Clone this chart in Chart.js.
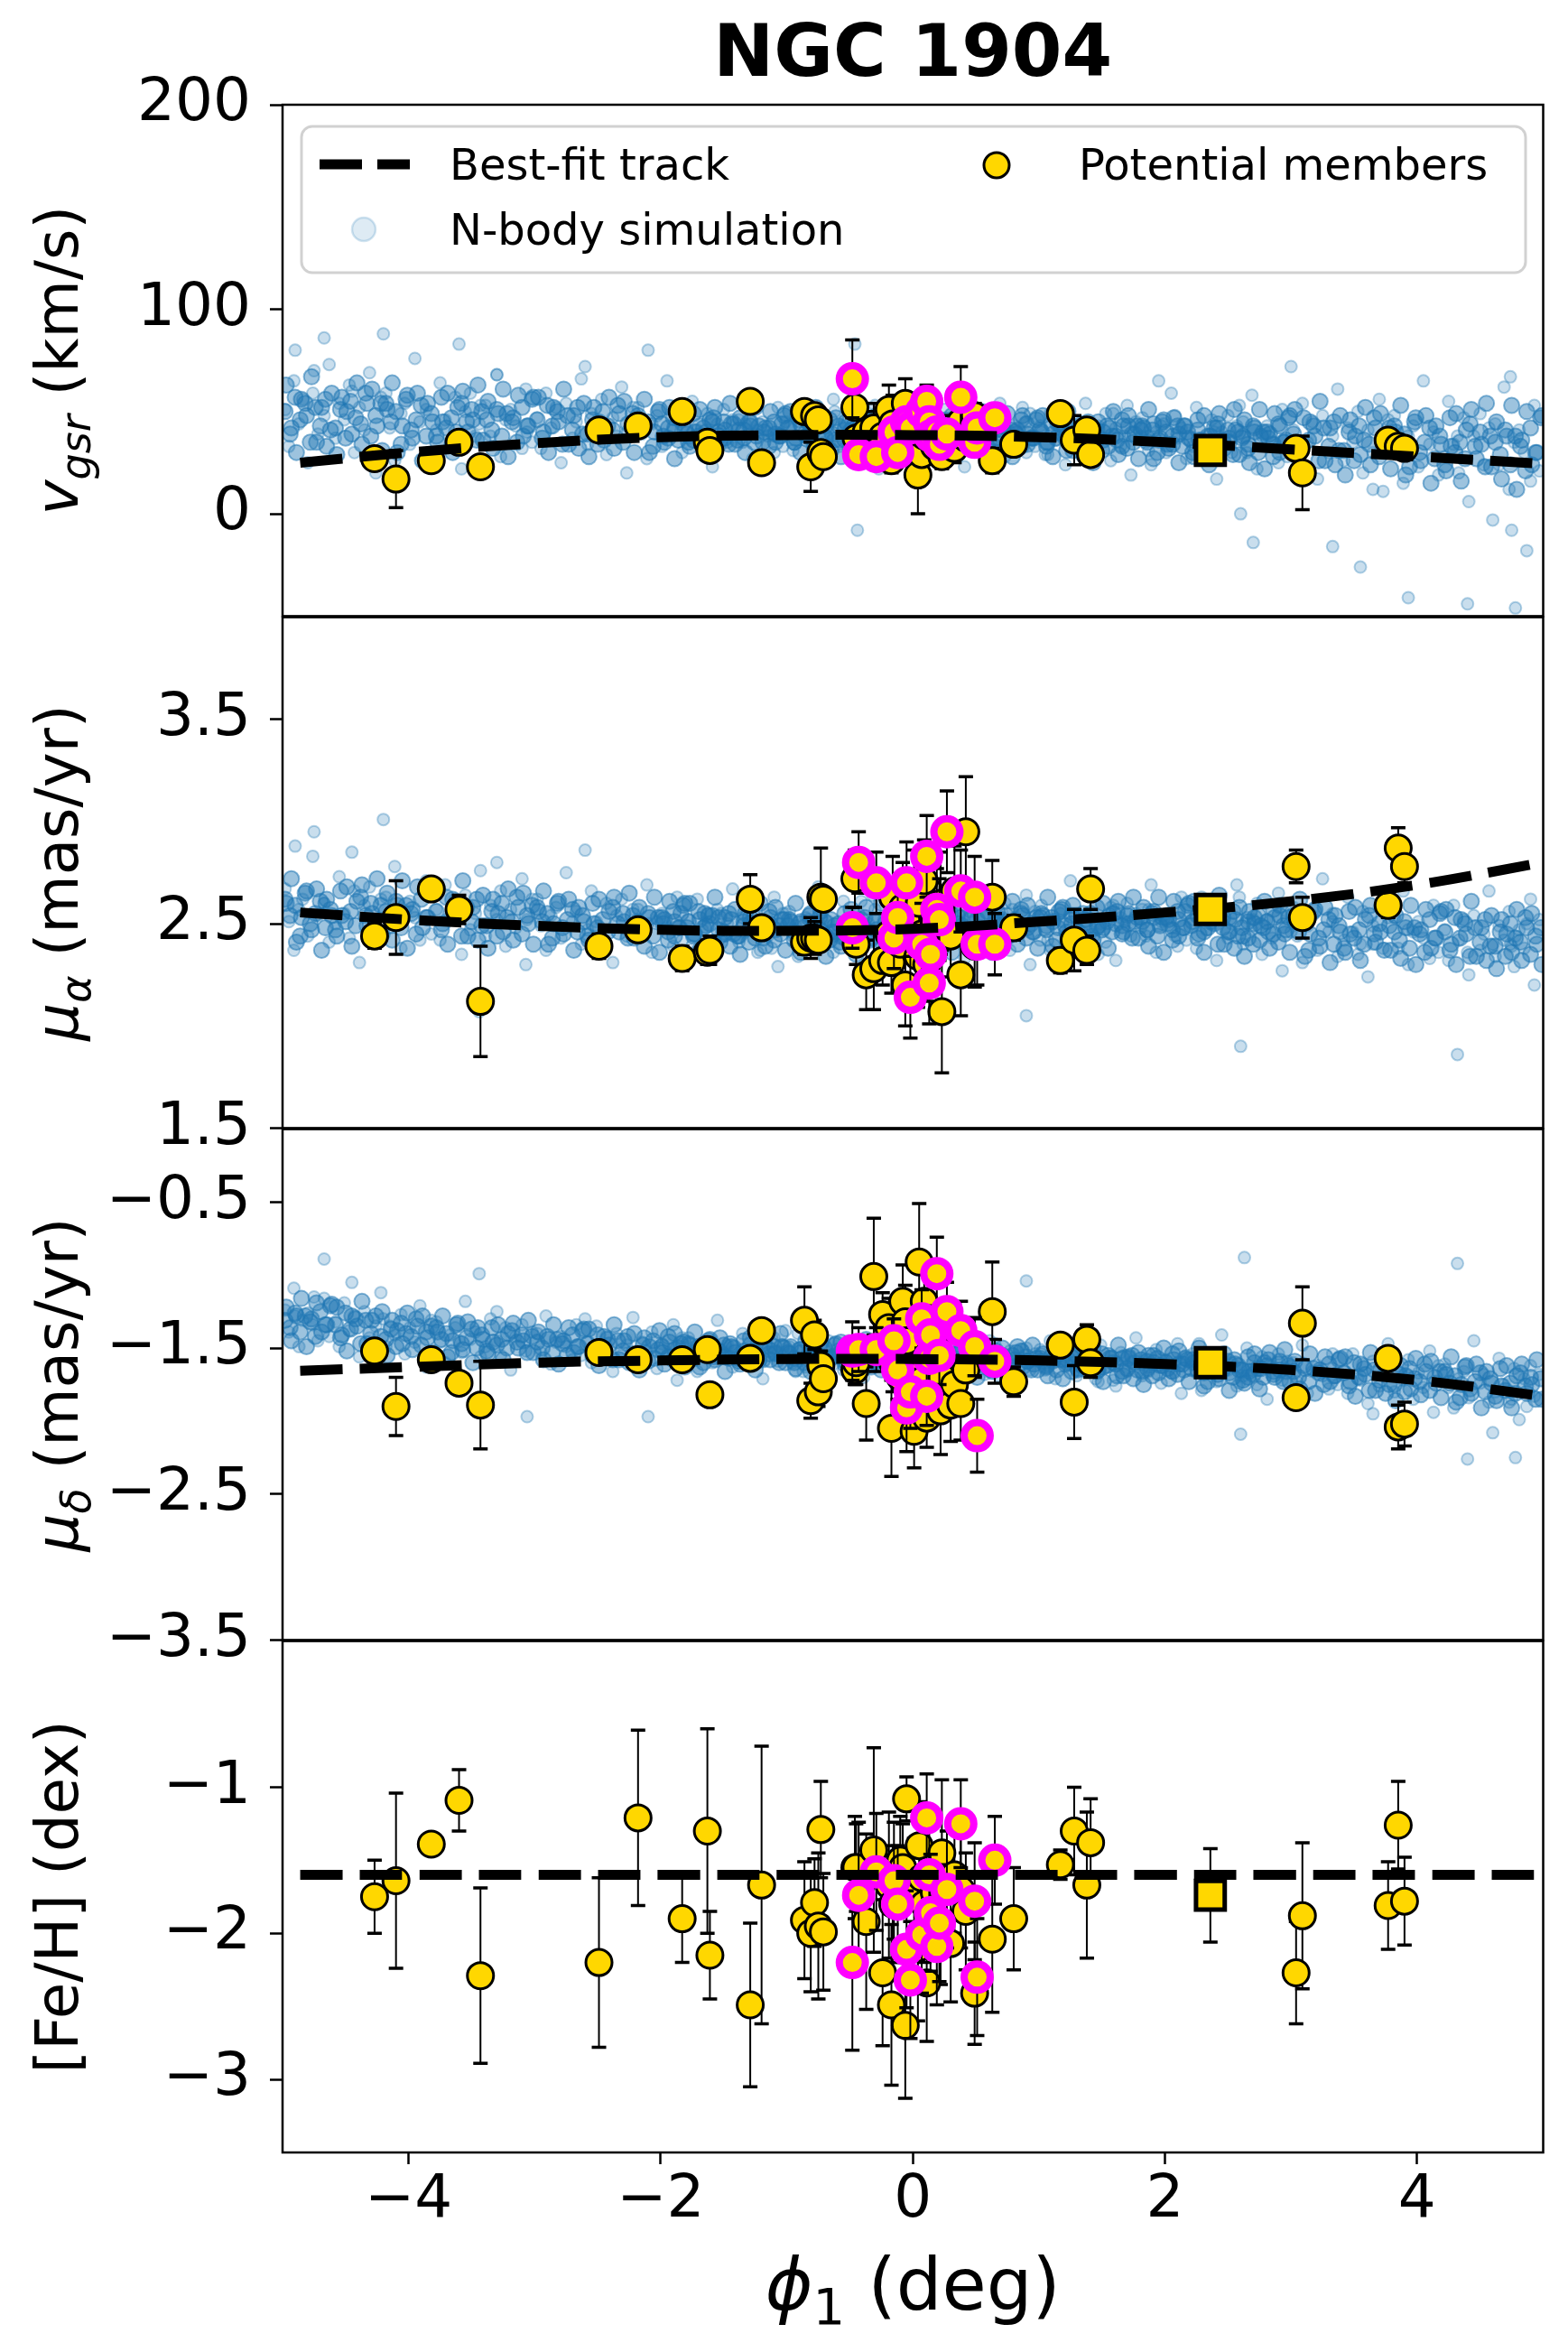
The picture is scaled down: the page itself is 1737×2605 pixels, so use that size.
<!DOCTYPE html>
<html><head><meta charset="utf-8">
<script src="https://cdn.jsdelivr.net/npm/chart.js@4.4.1/dist/chart.umd.min.js"></script>
<style>
html,body{margin:0;padding:0;background:#fff;}
#wrap{position:relative;width:1737px;height:2605px;background:#fff;overflow:hidden;}
canvas{position:absolute;left:0;}
</style></head><body>
<div id="wrap">
<canvas id="c1" width="1737" height="743" style="top:0px;width:1737px;height:743px"></canvas>
<canvas id="c2" width="1737" height="687" style="top:623px;width:1737px;height:687px"></canvas>
<canvas id="c3" width="1737" height="687" style="top:1190px;width:1737px;height:687px"></canvas>
<canvas id="c4" width="1737" height="848" style="top:1757px;width:1737px;height:848px"></canvas>
</div>
<script>
// ---------------- DATA ----------------
const chartTitle = 'NGC 1904';
const legendLabels = ['Best-fit track', 'N-body simulation', 'Potential members'];

const xTicks = [-4, -2, 0, 2, 4];
const yTicksV = [0, 100, 200];
const yTicksPa = [1.5, 2.5, 3.5];
const yTicksPd = [-3.5, -2.5, -1.5, -0.5];
const yTicksFe = [-3, -2, -1];

// best-fit track
const trackPhi = [-4.86, -4, -3, -2, -1, 0, 1, 2, 3, 4, 5];
const trackV   = [25, 30, 34.5, 37.5, 38.5, 38.5, 37.5, 35, 31.5, 28, 24.5];
const trackPa  = [2.555, 2.52, 2.49, 2.47, 2.465, 2.475, 2.51, 2.555, 2.61, 2.69, 2.80];
const trackPd  = [-1.655, -1.63, -1.60, -1.585, -1.575, -1.575, -1.585, -1.61, -1.65, -1.72, -1.83];
const trackFe  = [-1.6, -1.6, -1.6, -1.6, -1.6, -1.6, -1.6, -1.6, -1.6, -1.6, -1.6];

// cluster (square)
const clusterPhi = [2.36];
const clusterV = [31];
const clusterPa = [2.57];
const clusterPd = [-1.60];
const clusterFe = [-1.74];
const clusterFeErr = [0.32];

// potential members (black edge)
const memPhi = [-4.27,-4.10,-3.82,-3.60,-3.43,-2.49,-2.18,-1.83,-1.63,-1.61,-1.29,-1.20,-0.86,-0.81,-0.78,-0.75,-0.73,-0.71,-0.46,-0.45,-0.37,-0.31,-0.24,-0.19,-0.17,-0.16,-0.10,-0.08,-0.06,-0.05,0.01,0.04,0.05,0.07,0.09,0.11,0.17,0.22,0.23,0.30,0.33,0.38,0.42,0.49,0.63,0.80,1.17,1.28,1.38,1.41,3.04,3.09,3.77,3.85,3.90];
const memV = [27,17,26,35,23,41,43,50,35,31,55,25,50,23,48,46,30,28,52,37,40,42,38,51,26,44,32,40,54,36,30,19,45,29,38,42,33,35,28,40,32,45,37,48,26,34,49,36,41,29,32,20,36,33,32];
const memVErr = [4,14,4,4,4,3,3,3,3,4,4,4,4,12,4,3,4,5,4,5,10,12,5,12,6,14,6,14,12,6,10,19,12,6,8,10,7,6,6,8,7,12,6,6,6,5,5,12,4,4,5,18,5,5,4];
const memPa = [2.44,2.53,2.67,2.57,2.12,2.39,2.47,2.33,2.36,2.37,2.62,2.48,2.41,2.43,2.43,2.42,2.63,2.62,2.72,2.40,2.25,2.28,2.32,2.45,2.31,2.63,2.40,2.58,2.20,2.52,2.68,2.34,2.60,2.45,2.71,2.30,2.50,2.60,2.07,2.44,2.66,2.25,2.95,2.39,2.63,2.48,2.32,2.42,2.37,2.67,2.78,2.53,2.59,2.87,2.78];
const memPaErr = [0.06,0.18,0.05,0.07,0.27,0.06,0.05,0.06,0.06,0.07,0.12,0.05,0.06,0.10,0.08,0.05,0.24,0.05,0.14,0.10,0.17,0.20,0.12,0.15,0.15,0.20,0.18,0.22,0.20,0.20,0.18,0.25,0.20,0.20,0.20,0.18,0.20,0.25,0.30,0.20,0.22,0.20,0.27,0.20,0.18,0.06,0.06,0.15,0.07,0.10,0.08,0.10,0.06,0.10,0.08];
const memPd = [-1.52,-1.90,-1.58,-1.74,-1.89,-1.53,-1.58,-1.58,-1.51,-1.82,-1.57,-1.38,-1.31,-1.86,-1.41,-1.80,-1.62,-1.71,-1.65,-1.60,-1.88,-1.01,-1.27,-1.36,-2.05,-1.60,-1.70,-1.18,-1.32,-1.45,-2.07,-1.62,-0.91,-1.72,-1.18,-1.98,-1.55,-1.93,-1.70,-1.89,-1.75,-1.88,-1.65,-1.50,-1.25,-1.73,-1.48,-1.87,-1.44,-1.60,-1.84,-1.33,-1.57,-2.04,-2.02];
const memPdErr = [0.05,0.20,0.05,0.07,0.30,0.05,0.05,0.05,0.05,0.06,0.05,0.07,0.23,0.12,0.10,0.10,0.10,0.10,0.10,0.15,0.25,0.40,0.15,0.20,0.33,0.20,0.20,0.25,0.25,0.20,0.25,0.20,0.40,0.20,0.30,0.20,0.20,0.30,0.20,0.25,0.20,0.25,0.20,0.20,0.34,0.10,0.05,0.25,0.10,0.10,0.06,0.25,0.06,0.15,0.15];
const memFe = [-1.75,-1.64,-1.39,-1.09,-2.29,-2.20,-1.21,-1.90,-1.30,-2.15,-2.49,-1.67,-1.91,-2.00,-1.79,-1.95,-1.29,-1.99,-1.55,-1.55,-1.92,-1.43,-2.27,-1.67,-2.49,-1.80,-1.50,-1.55,-2.63,-1.08,-1.75,-2.10,-1.40,-1.62,-1.80,-2.34,-1.72,-1.95,-1.45,-2.07,-1.60,-1.70,-1.85,-2.41,-2.04,-1.90,-1.53,-1.30,-1.67,-1.38,-2.27,-1.88,-1.81,-1.26,-1.78];
const memFeErr = [0.25,0.60,0.07,0.21,0.60,0.58,0.60,0.30,0.70,0.30,0.56,0.95,0.40,0.40,0.30,0.50,0.33,0.40,0.35,0.30,0.60,0.70,0.50,0.50,0.55,0.40,0.30,0.30,0.50,0.15,0.40,0.50,0.30,0.40,0.40,0.40,0.30,0.40,0.50,0.40,0.40,0.40,0.40,0.35,0.50,0.35,0.10,0.30,0.50,0.30,0.35,0.50,0.30,0.30,0.30];

// potential members highlighted with magenta edge
const corePhi = [-0.48,-0.43,-0.29,-0.15,-0.12,-0.05,-0.02,0.07,0.11,0.13,0.14,0.19,0.21,0.27,0.38,0.49,0.51,0.65];
const coreV = [66,29,28,40,30,45,42,50,55,45,38,40,34,39,57,35,42,47];
const coreVErr = [19,6,6,6,6,6,7,7,8,6,6,6,6,6,15,6,6,6];
const corePa = [2.48,2.80,2.70,2.43,2.53,2.70,2.14,2.40,2.83,2.21,2.35,2.57,2.52,2.95,2.66,2.63,2.40,2.40];
const corePaErr = [0.10,0.15,0.15,0.15,0.15,0.20,0.20,0.20,0.20,0.20,0.20,0.20,0.20,0.20,0.20,0.20,0.20,0.15];
const corePd = [-1.52,-1.51,-1.51,-1.45,-1.65,-1.91,-1.80,-1.30,-1.83,-1.57,-1.41,-0.99,-1.55,-1.25,-1.38,-1.49,-2.10,-1.59];
const corePdErr = [0.20,0.15,0.15,0.15,0.20,0.30,0.25,0.20,0.20,0.20,0.20,0.25,0.20,0.20,0.20,0.20,0.25,0.15];
const coreFe = [-2.20,-1.74,-1.58,-1.64,-1.80,-2.11,-2.32,-2.01,-1.21,-1.60,-1.86,-2.09,-1.93,-1.70,-1.25,-1.78,-2.30,-1.50];
const coreFeErr = [0.60,0.50,0.40,0.40,0.40,0.40,0.40,0.40,0.30,0.40,0.40,0.40,0.40,0.40,0.30,0.40,0.40,0.30];

// N-body simulation particles (first set: broad + outliers)
const nbPhi = [
-4.98,-4.95,-4.91,-4.87,-4.84,-4.80,-4.76,-4.72,-4.67,-4.63,
-4.58,-4.55,-4.51,-4.47,-4.43,-4.39,-4.35,-4.31,-4.26,-4.22,
-4.18,-4.15,-4.11,-4.06,-4.03,-3.99,-3.95,-3.91,-3.86,-3.82,
-3.78,-3.75,-3.71,-3.67,-3.63,-3.58,-3.55,-3.51,-3.47,-3.43,
-3.39,-3.35,-3.30,-3.27,-3.23,-3.19,-3.15,-3.10,-3.07,-3.02,
-2.98,-2.95,-2.91,-2.87,-2.83,-2.79,-2.75,-2.70,-2.67,-2.63,
-2.58,-2.55,-2.51,-2.47,-2.43,-2.38,-2.35,-2.31,-2.27,-2.22,
-2.18,-2.15,-2.11,-2.07,-2.03,-1.99,-1.95,-1.90,-1.87,-1.83,
-1.78,-1.75,-1.71,-1.67,-1.63,-1.59,-1.55,-1.50,-1.47,-1.43,
-1.38,-1.35,-1.31,-1.27,-1.23,-1.19,-1.15,-1.10,-1.07,-1.03,
-0.98,-0.95,-0.91,-0.87,-0.83,-0.79,-0.75,-0.70,-0.67,-0.63,
-0.58,-0.55,-0.51,-0.47,-0.43,-0.39,-0.35,-0.30,-0.27,-0.23,
-0.18,-0.15,-0.11,-0.07,-0.03,0.01,0.05,0.10,0.13,0.17,
0.22,0.25,0.29,0.33,0.37,0.41,0.45,0.50,0.53,0.57,
0.62,0.65,0.69,0.73,0.77,0.81,0.85,0.90,0.93,0.97,
1.02,1.05,1.09,1.13,1.17,1.21,1.25,1.30,1.33,1.37,
1.42,1.45,1.49,1.53,1.57,1.61,1.65,1.70,1.73,1.77,
1.82,1.85,1.89,1.93,1.97,2.01,2.05,2.10,2.13,2.17,
2.22,2.25,2.29,2.33,2.37,2.41,2.45,2.50,2.53,2.57,
2.62,2.65,2.69,2.73,2.77,2.81,2.85,2.90,2.93,2.97,
3.02,3.05,3.09,3.13,3.17,3.21,3.25,3.30,3.33,3.37,
3.42,3.45,3.49,3.53,3.57,3.61,3.65,3.70,3.73,3.77,
3.82,3.85,3.89,3.93,3.97,4.01,4.05,4.10,4.13,4.17,
4.22,4.25,4.29,4.33,4.37,4.41,4.45,4.50,4.53,4.57,
4.62,4.65,4.69,4.73,4.77,4.81,4.85,4.90,4.93,4.97,
-1.52,-1.33,-1.12,-0.93,-0.72,-0.53,-0.32,-0.12,0.07,0.28,
0.47,0.68,0.87,1.07,1.28,1.47,1.68,1.87,2.08,2.27,
-0.85,-0.62,-0.41,-0.21,0.03,0.19,0.39,0.61,0.79,1.01,
1.19,1.41,1.59,1.81,1.99,-1.21,-1.01,-0.81,2.39,2.59,
-0.44,2.70,3.55,3.93,4.40,4.78,3.33,4.75,4.87,2.60,
-4.67,-4.20,-3.60,-2.10,-0.46,3.00,4.74,-4.90,0.90,4.32,
-3.44,-3.06,2.63,-4.75,-4.45,3.65,1.95,-2.60,-3.30,4.60];
const nbV = [
51,33,65,44,56,25,59,39,48,73,
37,54,46,63,30,52,41,69,20,57,
59,42,26,49,54,34,76,45,51,30,
41,64,46,34,57,22,50,59,38,53,
53,38,68,28,46,51,43,32,61,35,
47,32,59,42,52,25,54,37,45,66,
34,49,42,56,29,47,38,62,20,52,
52,39,27,44,48,33,65,41,46,30,
37,55,41,32,49,23,44,51,35,46,
46,35,57,27,41,45,38,30,52,33,
42,31,51,38,46,26,47,35,41,56,
33,43,38,49,29,42,35,53,22,45,
47,37,27,41,44,32,57,38,42,29,
36,51,39,31,46,23,41,48,33,44,
45,34,54,28,40,43,37,30,49,33,
40,29,49,36,44,24,45,33,39,54,
31,42,37,49,26,42,33,53,19,45,
47,35,24,40,43,30,59,37,42,27,
33,52,37,27,46,17,40,48,30,43,
45,30,58,22,38,43,35,25,51,28,
41,24,54,35,45,17,48,30,38,61,
26,42,35,50,20,41,30,56,11,46,
48,31,15,38,43,23,65,34,40,19,
28,55,34,20,47,6,38,49,24,42,
44,24,62,12,35,41,30,16,53,21,
34,44,39,48,31,43,36,52,25,46,
44,35,52,29,40,43,38,31,48,33,
36,50,39,32,45,25,41,47,34,43,
41,31,49,38,44,27,45,35,40,53,
-8,-14,-26,-41,-44,-46,-16,-8,-18,0,
86,88,83,80,83,72,67,80,45,38,
44,40,38,70,60,12,65,72,68,-3];
const nbPa = [
2.67,2.51,2.37,2.57,2.62,2.44,2.83,2.54,2.60,2.41,
2.50,2.73,2.55,2.43,2.66,2.31,2.59,2.68,2.47,2.62,
2.63,2.48,2.78,2.38,2.56,2.61,2.53,2.42,2.71,2.45,
2.57,2.42,2.69,2.52,2.62,2.35,2.64,2.47,2.55,2.76,
2.44,2.59,2.52,2.66,2.39,2.57,2.48,2.72,2.30,2.62,
2.62,2.49,2.37,2.54,2.58,2.43,2.75,2.51,2.56,2.40,
2.47,2.66,2.51,2.41,2.60,2.31,2.54,2.62,2.44,2.57,
2.57,2.44,2.69,2.36,2.51,2.55,2.48,2.39,2.63,2.42,
2.52,2.39,2.62,2.47,2.55,2.34,2.57,2.44,2.50,2.67,
2.41,2.53,2.47,2.59,2.36,2.52,2.44,2.63,2.29,2.55,
2.56,2.44,2.34,2.49,2.52,2.39,2.68,2.46,2.51,2.36,
2.43,2.61,2.47,2.38,2.55,2.29,2.50,2.57,2.41,2.52,
2.53,2.42,2.64,2.34,2.48,2.52,2.45,2.37,2.59,2.40,
2.51,2.38,2.61,2.46,2.54,2.33,2.56,2.43,2.49,2.66,
2.42,2.54,2.48,2.60,2.37,2.53,2.45,2.64,2.30,2.56,
2.59,2.47,2.37,2.52,2.55,2.42,2.71,2.49,2.54,2.39,
2.46,2.64,2.50,2.41,2.58,2.32,2.53,2.60,2.44,2.55,
2.57,2.44,2.69,2.36,2.51,2.55,2.48,2.39,2.63,2.42,
2.52,2.38,2.63,2.47,2.56,2.32,2.58,2.43,2.50,2.69,
2.40,2.53,2.47,2.60,2.35,2.52,2.43,2.65,2.27,2.56,
2.58,2.44,2.31,2.49,2.54,2.37,2.72,2.46,2.51,2.34,
2.42,2.63,2.46,2.35,2.56,2.24,2.49,2.58,2.38,2.53,
2.53,2.38,2.66,2.30,2.46,2.51,2.43,2.33,2.59,2.36,
2.47,2.32,2.59,2.42,2.52,2.25,2.54,2.37,2.45,2.66,
2.34,2.49,2.42,2.56,2.29,2.47,2.38,2.62,2.20,2.52,
2.55,2.46,2.38,2.49,2.52,2.42,2.64,2.47,2.51,2.40,
2.46,2.60,2.49,2.42,2.55,2.35,2.51,2.57,2.44,2.53,
2.53,2.44,2.61,2.38,2.49,2.52,2.47,2.40,2.57,2.42,
2.51,2.41,2.59,2.48,2.54,2.37,2.55,2.45,2.50,2.63,
2.45,2.52,2.40,2.47,2.36,2.44,2.55,2.39,2.50,1.90,
2.60,3.01,2.55,2.50,2.47,2.46,2.40,2.88,2.05,1.86,
2.07,2.52,2.50,2.95,2.85,2.40,2.49,2.86,2.80,2.40];
const nbPd = [
-1.24,-1.39,-1.09,-1.49,-1.31,-1.26,-1.34,-1.45,-1.16,-1.42,
-1.32,-1.49,-1.19,-1.38,-1.28,-1.56,-1.25,-1.43,-1.35,-1.12,
-1.49,-1.35,-1.41,-1.27,-1.54,-1.36,-1.46,-1.21,-1.63,-1.31,
-1.32,-1.46,-1.60,-1.41,-1.36,-1.53,-1.18,-1.44,-1.39,-1.56,
-1.49,-1.30,-1.45,-1.55,-1.36,-1.65,-1.42,-1.34,-1.52,-1.39,
-1.40,-1.53,-1.28,-1.61,-1.46,-1.42,-1.49,-1.58,-1.34,-1.55,
-1.46,-1.60,-1.35,-1.51,-1.42,-1.66,-1.40,-1.55,-1.48,-1.29,
-1.59,-1.46,-1.52,-1.39,-1.64,-1.47,-1.56,-1.34,-1.72,-1.43,
-1.43,-1.55,-1.66,-1.50,-1.47,-1.60,-1.31,-1.53,-1.48,-1.63,
-1.57,-1.40,-1.53,-1.62,-1.45,-1.71,-1.50,-1.43,-1.59,-1.48,
-1.49,-1.60,-1.40,-1.66,-1.54,-1.51,-1.57,-1.64,-1.45,-1.61,
-1.54,-1.65,-1.45,-1.58,-1.50,-1.70,-1.49,-1.61,-1.55,-1.40,
-1.63,-1.53,-1.58,-1.47,-1.67,-1.54,-1.61,-1.43,-1.74,-1.51,
-1.50,-1.60,-1.70,-1.56,-1.53,-1.65,-1.40,-1.59,-1.55,-1.68,
-1.62,-1.47,-1.59,-1.67,-1.52,-1.75,-1.57,-1.50,-1.65,-1.54,
-1.54,-1.65,-1.45,-1.71,-1.59,-1.56,-1.62,-1.69,-1.50,-1.66,
-1.58,-1.71,-1.48,-1.63,-1.55,-1.76,-1.53,-1.66,-1.60,-1.43,
-1.69,-1.58,-1.63,-1.51,-1.74,-1.58,-1.67,-1.47,-1.81,-1.55,
-1.54,-1.67,-1.79,-1.62,-1.58,-1.73,-1.41,-1.65,-1.60,-1.76,
-1.69,-1.50,-1.65,-1.75,-1.56,-1.85,-1.62,-1.54,-1.72,-1.59,
-1.60,-1.73,-1.48,-1.81,-1.66,-1.62,-1.69,-1.78,-1.54,-1.75,
-1.66,-1.81,-1.54,-1.71,-1.61,-1.88,-1.59,-1.76,-1.68,-1.47,
-1.80,-1.66,-1.72,-1.58,-1.85,-1.67,-1.77,-1.52,-1.94,-1.62,
-1.61,-1.77,-1.91,-1.71,-1.66,-1.84,-1.45,-1.74,-1.68,-1.87,
-1.80,-1.57,-1.75,-1.87,-1.64,-1.99,-1.71,-1.62,-1.83,-1.68,
-1.51,-1.60,-1.43,-1.66,-1.55,-1.52,-1.57,-1.64,-1.47,-1.62,
-1.59,-1.69,-1.51,-1.62,-1.56,-1.73,-1.55,-1.66,-1.61,-1.47,
-1.63,-1.54,-1.58,-1.49,-1.66,-1.54,-1.61,-1.45,-1.72,-1.51,
-1.53,-1.63,-1.72,-1.61,-1.58,-1.59,-1.38,-1.56,-1.60,-1.74,
-1.55,-1.66,-1.72,-1.69,-2.26,-2.25,-1.64,-1.85,-1.90,-2.09,
-0.89,-1.30,-1.45,-1.97,-1.55,-1.62,-1.80,-1.28,-1.04,-0.92,
-0.99,-1.97,-0.88,-1.15,-1.05,-1.95,-1.62,-1.30,-1.25,-2.08];

// N-body simulation particles (second set: stream core)
const nbPhi2 = [
-4.98,-4.94,-4.90,-4.86,-4.82,-4.78,-4.74,-4.70,-4.66,-4.62,
-4.58,-4.54,-4.50,-4.46,-4.42,-4.38,-4.34,-4.30,-4.26,-4.22,
-4.18,-4.14,-4.10,-4.06,-4.02,-3.98,-3.94,-3.90,-3.86,-3.82,
-3.78,-3.74,-3.70,-3.66,-3.62,-3.58,-3.54,-3.50,-3.46,-3.42,
-3.38,-3.34,-3.30,-3.26,-3.22,-3.18,-3.14,-3.10,-3.06,-3.02,
-2.98,-2.94,-2.90,-2.86,-2.82,-2.78,-2.74,-2.70,-2.66,-2.62,
-2.58,-2.54,-2.50,-2.46,-2.42,-2.38,-2.34,-2.30,-2.26,-2.22,
-2.18,-2.14,-2.10,-2.06,-2.02,-1.98,-1.94,-1.90,-1.86,-1.82,
-1.78,-1.74,-1.70,-1.66,-1.62,-1.58,-1.54,-1.50,-1.46,-1.42,
-1.38,-1.34,-1.30,-1.26,-1.22,-1.18,-1.14,-1.10,-1.06,-1.02,
-0.98,-0.94,-0.90,-0.86,-0.82,-0.78,-0.74,-0.70,-0.66,-0.62,
-0.58,-0.54,-0.50,-0.46,-0.42,-0.38,-0.34,-0.30,-0.26,-0.22,
-0.18,-0.14,-0.10,-0.06,-0.02,0.02,0.06,0.10,0.14,0.18,
0.22,0.26,0.30,0.34,0.38,0.42,0.46,0.50,0.54,0.58,
0.62,0.66,0.70,0.74,0.78,0.82,0.86,0.90,0.94,0.98,
1.02,1.06,1.10,1.14,1.18,1.22,1.26,1.30,1.34,1.38,
1.42,1.46,1.50,1.54,1.58,1.62,1.66,1.70,1.74,1.78,
1.82,1.86,1.90,1.94,1.98,2.02,2.06,2.10,2.14,2.18,
2.22,2.26,2.30,2.34,2.38,2.42,2.46,2.50,2.54,2.58,
2.62,2.66,2.70,2.74,2.78,2.82,2.86,2.90,2.94,2.98,
3.02,3.06,3.10,3.14,3.18,3.22,3.26,3.30,3.34,3.38,
3.42,3.46,3.50,3.54,3.58,3.62,3.66,3.70,3.74,3.78,
3.82,3.86,3.90,3.94,3.98,4.02,4.06,4.10,4.14,4.18,
4.22,4.26,4.30,4.34,4.38,4.42,4.46,4.50,4.54,4.58,
4.62,4.66,4.70,4.74,4.78,4.82,4.86,4.90,4.94,4.98];
const nbV2 = [
50,39,57,46,54,35,52,43,56,41,
42,51,37,55,47,44,59,38,48,54,
54,45,50,34,56,41,46,53,38,49,
38,57,42,47,40,54,45,51,36,50,
46,41,51,38,49,45,35,52,43,56,
46,37,53,43,50,34,48,41,52,39,
39,46,34,50,43,41,53,35,44,49,
48,41,45,33,50,38,42,47,36,44,
35,49,38,42,36,47,40,45,34,44,
41,37,45,35,43,40,33,45,38,48,
42,35,46,39,44,33,43,38,46,36,
36,41,33,44,39,37,46,33,40,43,
44,38,41,32,45,36,39,43,34,41,
33,46,37,40,35,45,38,42,33,41,
40,37,43,34,41,39,33,44,37,46,
40,33,44,37,42,31,41,36,44,34,
34,41,31,43,38,36,46,32,39,43,
43,37,41,30,45,34,38,43,33,40,
30,46,34,38,32,44,36,41,29,40,
38,34,43,30,40,37,28,44,35,47,
39,30,47,36,43,26,42,33,45,31,
31,40,26,43,36,34,47,28,37,42,
43,34,39,23,45,30,35,42,27,38,
24,47,30,35,27,44,33,40,23,38,
35,29,41,24,38,33,21,42,30,47];
const nbPa2 = [
2.62,2.54,2.59,2.44,2.65,2.50,2.55,2.61,2.48,2.57,
2.47,2.66,2.51,2.56,2.49,2.63,2.54,2.60,2.45,2.59,
2.56,2.51,2.61,2.48,2.59,2.55,2.45,2.62,2.53,2.66,
2.56,2.47,2.63,2.53,2.60,2.44,2.58,2.51,2.62,2.49,
2.49,2.56,2.44,2.60,2.53,2.51,2.63,2.45,2.54,2.59,
2.58,2.51,2.55,2.43,2.60,2.48,2.52,2.57,2.46,2.54,
2.44,2.60,2.48,2.52,2.46,2.58,2.50,2.55,2.43,2.54,
2.51,2.47,2.55,2.44,2.53,2.50,2.42,2.56,2.48,2.59,
2.51,2.44,2.56,2.48,2.54,2.41,2.53,2.46,2.55,2.45,
2.44,2.51,2.41,2.53,2.48,2.46,2.56,2.42,2.49,2.52,
2.52,2.46,2.50,2.39,2.54,2.43,2.47,2.51,2.42,2.49,
2.41,2.55,2.44,2.48,2.43,2.53,2.46,2.51,2.40,2.50,
2.48,2.44,2.52,2.42,2.50,2.47,2.40,2.52,2.45,2.55,
2.50,2.43,2.55,2.47,2.53,2.40,2.52,2.45,2.54,2.44,
2.45,2.52,2.42,2.54,2.49,2.47,2.57,2.43,2.50,2.53,
2.55,2.49,2.53,2.42,2.57,2.46,2.50,2.54,2.45,2.52,
2.44,2.58,2.47,2.51,2.46,2.56,2.49,2.54,2.43,2.53,
2.51,2.47,2.55,2.44,2.53,2.50,2.42,2.56,2.48,2.59,
2.51,2.43,2.57,2.48,2.54,2.40,2.53,2.46,2.56,2.44,
2.44,2.51,2.40,2.54,2.48,2.46,2.57,2.41,2.49,2.53,
2.54,2.46,2.50,2.37,2.56,2.43,2.47,2.52,2.40,2.49,
2.38,2.56,2.43,2.47,2.40,2.54,2.45,2.50,2.37,2.49,
2.46,2.42,2.51,2.38,2.48,2.45,2.36,2.52,2.43,2.55,
2.46,2.37,2.53,2.43,2.50,2.34,2.48,2.41,2.52,2.39,
2.39,2.46,2.34,2.50,2.43,2.41,2.53,2.35,2.44,2.48];
const nbPd2 = [
-1.31,-1.36,-1.26,-1.39,-1.28,-1.32,-1.42,-1.25,-1.34,-1.21,
-1.34,-1.43,-1.26,-1.37,-1.30,-1.47,-1.31,-1.40,-1.28,-1.42,
-1.44,-1.37,-1.49,-1.33,-1.40,-1.42,-1.30,-1.48,-1.39,-1.35,
-1.36,-1.44,-1.40,-1.53,-1.34,-1.47,-1.43,-1.37,-1.50,-1.41,
-1.52,-1.36,-1.48,-1.44,-1.50,-1.38,-1.46,-1.41,-1.53,-1.42,
-1.46,-1.50,-1.42,-1.53,-1.44,-1.47,-1.55,-1.41,-1.49,-1.38,
-1.47,-1.55,-1.41,-1.50,-1.44,-1.58,-1.45,-1.52,-1.42,-1.54,
-1.55,-1.48,-1.59,-1.45,-1.51,-1.53,-1.42,-1.58,-1.50,-1.46,
-1.47,-1.53,-1.49,-1.60,-1.45,-1.56,-1.52,-1.48,-1.57,-1.50,
-1.59,-1.45,-1.56,-1.52,-1.58,-1.47,-1.54,-1.49,-1.60,-1.50,
-1.54,-1.57,-1.51,-1.60,-1.53,-1.55,-1.61,-1.50,-1.57,-1.48,
-1.54,-1.61,-1.50,-1.57,-1.52,-1.63,-1.53,-1.58,-1.50,-1.60,
-1.60,-1.55,-1.63,-1.52,-1.57,-1.59,-1.50,-1.63,-1.56,-1.53,
-1.53,-1.59,-1.56,-1.65,-1.52,-1.61,-1.58,-1.54,-1.63,-1.56,
-1.65,-1.52,-1.61,-1.58,-1.63,-1.53,-1.60,-1.56,-1.65,-1.57,
-1.59,-1.62,-1.56,-1.65,-1.58,-1.60,-1.66,-1.55,-1.62,-1.53,
-1.59,-1.66,-1.54,-1.62,-1.57,-1.69,-1.57,-1.64,-1.55,-1.65,
-1.66,-1.59,-1.69,-1.57,-1.62,-1.64,-1.54,-1.68,-1.61,-1.58,
-1.58,-1.65,-1.61,-1.73,-1.56,-1.68,-1.64,-1.59,-1.70,-1.62,
-1.72,-1.56,-1.68,-1.64,-1.70,-1.58,-1.66,-1.61,-1.73,-1.62,
-1.66,-1.70,-1.62,-1.73,-1.64,-1.67,-1.75,-1.61,-1.69,-1.58,
-1.67,-1.76,-1.60,-1.70,-1.64,-1.79,-1.65,-1.72,-1.61,-1.75,
-1.75,-1.68,-1.80,-1.64,-1.71,-1.73,-1.61,-1.79,-1.70,-1.66,
-1.66,-1.74,-1.69,-1.84,-1.63,-1.78,-1.73,-1.67,-1.80,-1.71,
-1.83,-1.64,-1.79,-1.74,-1.81,-1.67,-1.76,-1.70,-1.85,-1.71];

// N-body simulation particles (third set: dense inner stream)
const nbPhi3 = [
-1.99,-1.94,-1.89,-1.84,-1.79,-1.74,-1.69,-1.64,-1.59,-1.54,
-1.49,-1.44,-1.39,-1.34,-1.29,-1.24,-1.19,-1.14,-1.09,-1.04,
-0.99,-0.94,-0.89,-0.84,-0.79,-0.74,-0.69,-0.64,-0.59,-0.54,
-0.49,-0.44,-0.39,-0.34,-0.29,-0.24,-0.19,-0.14,-0.09,-0.04,
0.01,0.06,0.11,0.16,0.21,0.26,0.31,0.36,0.41,0.46,
0.51,0.56,0.61,0.66,0.71,0.76,0.81,0.86,0.91,0.96,
1.01,1.06,1.11,1.16,1.21,1.26,1.31,1.36,1.41,1.46,
1.51,1.56,1.61,1.66,1.71,1.76,1.81,1.86,1.91,1.96,
2.01,2.06,2.11,2.16,2.21,2.26,2.31,2.36,2.41,2.46,
2.51,2.56,2.61,2.66,2.71,2.76,2.81,2.86,2.91,2.96];
const nbV3 = [
44,37,42,46,39,36,43,40,45,38,
37,44,36,41,45,38,35,42,39,44,
42,35,44,38,41,46,37,39,43,36,
36,43,40,34,44,38,41,45,37,40,
41,37,44,35,40,43,38,42,34,45,
38,44,36,41,43,35,40,46,39,37,
41,35,39,44,37,42,34,40,43,36,
36,42,38,33,43,39,41,35,44,37,
40,34,39,43,36,41,33,38,42,35,
35,41,37,32,42,38,40,34,43,36];
const nbPa3 = [
2.53,2.46,2.51,2.55,2.48,2.45,2.52,2.49,2.54,2.47,
2.45,2.52,2.44,2.49,2.53,2.46,2.43,2.50,2.47,2.52,
2.49,2.42,2.51,2.45,2.48,2.53,2.44,2.46,2.50,2.43,
2.44,2.51,2.48,2.42,2.52,2.46,2.49,2.53,2.45,2.48,
2.49,2.45,2.52,2.43,2.48,2.51,2.46,2.50,2.42,2.53,
2.47,2.53,2.45,2.50,2.52,2.44,2.49,2.55,2.48,2.46,
2.53,2.47,2.51,2.56,2.49,2.54,2.46,2.52,2.55,2.48,
2.48,2.54,2.50,2.45,2.55,2.51,2.53,2.47,2.56,2.49,
2.53,2.47,2.52,2.56,2.49,2.54,2.46,2.51,2.55,2.48,
2.46,2.52,2.48,2.43,2.53,2.49,2.51,2.45,2.54,2.47];
const nbPd3 = [
-1.49,-1.56,-1.51,-1.47,-1.54,-1.57,-1.50,-1.53,-1.48,-1.55,
-1.56,-1.49,-1.57,-1.52,-1.48,-1.55,-1.58,-1.51,-1.54,-1.49,
-1.53,-1.60,-1.51,-1.57,-1.54,-1.49,-1.58,-1.56,-1.52,-1.59,
-1.59,-1.52,-1.55,-1.61,-1.51,-1.57,-1.54,-1.50,-1.58,-1.55,
-1.55,-1.59,-1.52,-1.61,-1.56,-1.53,-1.58,-1.54,-1.62,-1.51,
-1.60,-1.54,-1.62,-1.57,-1.55,-1.63,-1.58,-1.52,-1.59,-1.61,
-1.57,-1.63,-1.59,-1.54,-1.61,-1.56,-1.64,-1.58,-1.55,-1.62,
-1.63,-1.57,-1.61,-1.66,-1.56,-1.60,-1.58,-1.64,-1.55,-1.62,
-1.60,-1.66,-1.61,-1.57,-1.64,-1.59,-1.67,-1.62,-1.58,-1.65,
-1.67,-1.61,-1.65,-1.70,-1.60,-1.64,-1.62,-1.68,-1.59,-1.66];

// N-body simulation particles (fourth set: filling the band)
const nbPhi4 = [
-4.97,-4.93,-4.89,-4.85,-4.81,-4.77,-4.73,-4.69,-4.65,-4.61,
-4.57,-4.53,-4.49,-4.45,-4.41,-4.37,-4.33,-4.29,-4.25,-4.21,
-4.17,-4.13,-4.09,-4.05,-4.01,-3.97,-3.93,-3.89,-3.85,-3.81,
-3.77,-3.73,-3.69,-3.65,-3.61,-3.57,-3.53,-3.49,-3.45,-3.41,
-3.37,-3.33,-3.29,-3.25,-3.21,-3.17,-3.13,-3.09,-3.05,-3.01,
-2.97,-2.93,-2.89,-2.85,-2.81,-2.77,-2.73,-2.69,-2.65,-2.61,
-2.57,-2.53,-2.49,-2.45,-2.41,-2.37,-2.33,-2.29,-2.25,-2.21,
-2.17,-2.13,-2.09,-2.05,-2.01,-1.97,-1.93,-1.89,-1.85,-1.81,
-1.77,-1.73,-1.69,-1.65,-1.61,-1.57,-1.53,-1.49,-1.45,-1.41,
-1.37,-1.33,-1.29,-1.25,-1.21,-1.17,-1.13,-1.09,-1.05,-1.01,
-0.97,-0.93,-0.89,-0.85,-0.81,-0.77,-0.73,-0.69,-0.65,-0.61,
-0.57,-0.53,-0.49,-0.45,-0.41,-0.37,-0.33,-0.29,-0.25,-0.21,
-0.17,-0.13,-0.09,-0.05,-0.01,0.03,0.07,0.11,0.15,0.19,
0.23,0.27,0.31,0.35,0.39,0.43,0.47,0.51,0.55,0.59,
0.63,0.67,0.71,0.75,0.79,0.83,0.87,0.91,0.95,0.99,
1.03,1.07,1.11,1.15,1.19,1.23,1.27,1.31,1.35,1.39,
1.43,1.47,1.51,1.55,1.59,1.63,1.67,1.71,1.75,1.79,
1.83,1.87,1.91,1.95,1.99,2.03,2.07,2.11,2.15,2.19,
2.23,2.27,2.31,2.35,2.39,2.43,2.47,2.51,2.55,2.59,
2.63,2.67,2.71,2.75,2.79,2.83,2.87,2.91,2.95,2.99,
3.03,3.07,3.11,3.15,3.19,3.23,3.27,3.31,3.35,3.39,
3.43,3.47,3.51,3.55,3.59,3.63,3.67,3.71,3.75,3.79,
3.83,3.87,3.91,3.95,3.99,4.03,4.07,4.11,4.15,4.19,
4.23,4.27,4.31,4.35,4.39,4.43,4.47,4.51,4.55,4.59,
4.63,4.67,4.71,4.75,4.79,4.83,4.87,4.91,4.95,4.99];
const nbV4 = [
63,42,30,56,48,67,35,52,33,59,
29,57,50,39,64,34,54,61,43,31,
51,64,30,43,58,37,59,26,54,45,
35,45,59,30,52,60,40,46,63,36,
55,32,49,61,28,47,58,38,43,57,
57,40,30,52,45,61,34,48,32,54,
28,52,45,36,57,32,49,55,40,30,
46,56,30,40,51,35,52,27,48,41,
33,40,51,29,46,52,36,41,54,34,
47,30,43,52,27,42,50,35,38,49,
50,37,30,46,41,52,33,43,31,47,
28,45,41,34,49,31,43,48,37,29,
42,50,29,37,46,33,47,27,44,38,
32,38,48,29,43,49,35,39,50,33,
45,30,41,49,28,41,48,34,37,47,
48,35,28,44,39,50,31,41,29,45,
25,45,40,33,50,29,43,48,35,27,
42,51,27,36,46,32,47,25,43,37,
28,36,48,24,42,49,32,37,51,29,
46,25,40,51,22,39,49,30,35,48,
51,32,21,45,38,55,26,42,24,48,
19,46,38,29,52,24,42,49,32,22,
40,53,19,32,47,26,48,15,43,34,
21,33,49,16,41,51,27,34,54,23,
45,17,38,53,12,36,50,24,30,48];
const nbPa4 = [
2.60,2.72,2.41,2.53,2.66,2.47,2.67,2.37,2.62,2.54,
2.44,2.54,2.68,2.39,2.61,2.69,2.49,2.55,2.72,2.45,
2.65,2.42,2.59,2.71,2.38,2.57,2.68,2.48,2.53,2.67,
2.67,2.50,2.40,2.62,2.55,2.71,2.44,2.58,2.42,2.64,
2.38,2.62,2.55,2.46,2.67,2.42,2.58,2.65,2.50,2.40,
2.56,2.66,2.40,2.50,2.61,2.45,2.62,2.37,2.58,2.51,
2.42,2.50,2.62,2.38,2.56,2.63,2.46,2.51,2.65,2.43,
2.58,2.39,2.53,2.63,2.36,2.52,2.61,2.44,2.48,2.60,
2.60,2.45,2.37,2.55,2.50,2.63,2.41,2.53,2.39,2.57,
2.35,2.55,2.50,2.43,2.60,2.39,2.53,2.58,2.45,2.37,
2.51,2.60,2.36,2.45,2.55,2.41,2.56,2.34,2.52,2.46,
2.39,2.46,2.57,2.35,2.52,2.58,2.43,2.47,2.60,2.40,
2.54,2.37,2.50,2.59,2.34,2.49,2.57,2.42,2.45,2.56,
2.59,2.44,2.36,2.54,2.49,2.62,2.40,2.52,2.38,2.56,
2.36,2.56,2.51,2.44,2.61,2.40,2.54,2.59,2.46,2.38,
2.54,2.63,2.39,2.48,2.58,2.44,2.59,2.37,2.55,2.49,
2.42,2.49,2.60,2.38,2.55,2.61,2.46,2.50,2.63,2.43,
2.58,2.39,2.53,2.63,2.36,2.52,2.61,2.44,2.48,2.60,
2.61,2.45,2.36,2.56,2.50,2.64,2.40,2.53,2.38,2.58,
2.34,2.56,2.50,2.42,2.61,2.38,2.53,2.59,2.45,2.36,
2.51,2.62,2.34,2.45,2.57,2.39,2.58,2.31,2.54,2.46,
2.36,2.45,2.58,2.32,2.52,2.59,2.41,2.46,2.61,2.37,
2.54,2.33,2.48,2.59,2.30,2.47,2.57,2.38,2.43,2.56,
2.57,2.40,2.30,2.52,2.45,2.61,2.34,2.48,2.32,2.54,
2.28,2.52,2.45,2.36,2.57,2.32,2.48,2.55,2.40,2.30];
const nbPd4 = [
-1.22,-1.45,-1.28,-1.16,-1.49,-1.30,-1.19,-1.39,-1.34,-1.20,
-1.22,-1.41,-1.52,-1.28,-1.35,-1.18,-1.47,-1.31,-1.49,-1.25,
-1.55,-1.31,-1.38,-1.47,-1.26,-1.51,-1.35,-1.28,-1.43,-1.53,
-1.39,-1.28,-1.56,-1.45,-1.33,-1.51,-1.32,-1.60,-1.36,-1.44,
-1.54,-1.46,-1.34,-1.58,-1.40,-1.33,-1.50,-1.45,-1.31,-1.53,
-1.39,-1.58,-1.44,-1.34,-1.61,-1.45,-1.36,-1.53,-1.49,-1.37,
-1.37,-1.53,-1.62,-1.42,-1.48,-1.34,-1.58,-1.45,-1.60,-1.40,
-1.65,-1.43,-1.49,-1.57,-1.38,-1.61,-1.46,-1.40,-1.54,-1.63,
-1.48,-1.39,-1.63,-1.54,-1.44,-1.58,-1.43,-1.66,-1.47,-1.53,
-1.61,-1.54,-1.43,-1.65,-1.49,-1.42,-1.58,-1.53,-1.40,-1.60,
-1.49,-1.64,-1.53,-1.45,-1.66,-1.53,-1.46,-1.60,-1.57,-1.47,
-1.46,-1.59,-1.66,-1.50,-1.55,-1.44,-1.63,-1.53,-1.65,-1.49,
-1.68,-1.51,-1.55,-1.62,-1.47,-1.65,-1.53,-1.48,-1.59,-1.67,
-1.55,-1.47,-1.68,-1.60,-1.51,-1.64,-1.50,-1.70,-1.53,-1.59,
-1.66,-1.60,-1.50,-1.69,-1.55,-1.49,-1.63,-1.59,-1.48,-1.65,
-1.54,-1.69,-1.58,-1.50,-1.71,-1.58,-1.51,-1.65,-1.62,-1.52,
-1.50,-1.65,-1.73,-1.55,-1.60,-1.48,-1.69,-1.57,-1.71,-1.53,
-1.75,-1.55,-1.60,-1.67,-1.50,-1.71,-1.58,-1.52,-1.65,-1.73,
-1.60,-1.50,-1.76,-1.66,-1.55,-1.71,-1.54,-1.79,-1.58,-1.65,
-1.74,-1.66,-1.54,-1.78,-1.60,-1.53,-1.70,-1.65,-1.51,-1.73,
-1.59,-1.78,-1.64,-1.54,-1.81,-1.65,-1.56,-1.73,-1.69,-1.57,
-1.56,-1.73,-1.83,-1.61,-1.68,-1.53,-1.79,-1.65,-1.81,-1.59,
-1.86,-1.62,-1.69,-1.78,-1.57,-1.82,-1.66,-1.59,-1.74,-1.84,
-1.68,-1.56,-1.87,-1.75,-1.62,-1.81,-1.61,-1.91,-1.66,-1.74,
-1.86,-1.76,-1.62,-1.91,-1.69,-1.61,-1.81,-1.75,-1.58,-1.85];

// ---------------- STYLE / HELPERS ----------------
const F = "'DejaVu Sans', 'Liberation Sans', sans-serif";
const GOLD = '#FFD700', MAG = '#FF00FF';
const NB_FILL = 'rgba(31,119,180,0.24)', NB_EDGE = 'rgba(31,119,180,0.34)';
const NB_CORE_FILL = 'rgba(31,119,180,0.44)', NB_CORE_EDGE = 'rgba(31,119,180,0.54)';
const NB_LEG_FILL = 'rgba(31,119,180,0.15)', NB_LEG_EDGE = 'rgba(31,119,180,0.2)';
Chart.defaults.font.family = F;
Chart.defaults.color = '#000';

function pts(xs, ys) { const o = []; const n = Math.min(xs.length, ys.length); for (let i = 0; i < n; i++) o.push({x: xs[i], y: ys[i]}); return o; }
const minus = s => String(s).replace('-', '\u2212');
const corePhiAll = nbPhi2.concat(nbPhi3, nbPhi4);

function drawRich(ctx, parts, cx, base, rotate) {
  ctx.save();
  ctx.translate(cx, base);
  if (rotate) ctx.rotate(-Math.PI / 2);
  let w = 0;
  parts.forEach(p => { ctx.font = p.font; w += ctx.measureText(p.t).width; });
  let x = -w / 2;
  ctx.fillStyle = '#000'; ctx.textBaseline = 'alphabetic'; ctx.textAlign = 'left';
  parts.forEach(p => { ctx.font = p.font; ctx.fillText(p.t, x, p.dy || 0); x += ctx.measureText(p.t).width; });
  ctx.restore();
}

const errorBarPlugin = {
  id: 'errorBars',
  beforeDatasetDraw(chart, args) {
    const ds = chart.data.datasets[args.index];
    if (!ds.errorBars) return;
    const xs = chart.scales.x, ys = chart.scales.y, ca = chart.chartArea, ctx = chart.ctx;
    ctx.save();
    ctx.beginPath(); ctx.rect(ca.left, ca.top, ca.right - ca.left, ca.bottom - ca.top); ctx.clip();
    ctx.strokeStyle = '#000';
    ds.data.forEach((p, i) => {
      const e = ds.errorBars[i]; if (!e) return;
      const px = xs.getPixelForValue(p.x);
      const y1 = ys.getPixelForValue(p.y + e), y2 = ys.getPixelForValue(p.y - e);
      ctx.lineWidth = 2; ctx.beginPath(); ctx.moveTo(px, y1); ctx.lineTo(px, y2); ctx.stroke();
      ctx.lineWidth = 3.5; ctx.beginPath();
      ctx.moveTo(px - 8, y1); ctx.lineTo(px + 8, y1);
      ctx.moveTo(px - 8, y2); ctx.lineTo(px + 8, y2); ctx.stroke();
    });
    ctx.restore();
  }
};

const framePlugin = {
  id: 'frame',
  afterDatasetsDraw(chart) {
    const {ctx, chartArea: ca} = chart;
    ctx.save(); ctx.strokeStyle = '#000'; ctx.lineWidth = 2.5;
    ctx.strokeRect(ca.left, ca.top, ca.right - ca.left, ca.bottom - ca.top);
    ctx.restore();
  }
};

function yTitlePlugin(parts) {
  return { id: 'ytitle', afterDraw(chart) {
    const ca = chart.chartArea;
    drawRich(chart.ctx, parts, 86, (ca.top + ca.bottom) / 2, true);
  }};
}

const xTitlePlugin = { id: 'xtitle', afterDraw(chart) {
  const ca = chart.chartArea;
  drawRich(chart.ctx, [
    {t: '\u03D5', font: `italic 80px ${F}`},
    {t: '1', font: `56px ${F}`, dy: 16},
    {t: ' (deg)', font: `80px ${F}`}
  ], (ca.left + ca.right) / 2, 801, false);
}};

function roundRectPath(ctx, x, y, w, h, r) {
  ctx.beginPath();
  ctx.moveTo(x + r, y); ctx.lineTo(x + w - r, y); ctx.arcTo(x + w, y, x + w, y + r, r);
  ctx.lineTo(x + w, y + h - r); ctx.arcTo(x + w, y + h, x + w - r, y + h, r);
  ctx.lineTo(x + r, y + h); ctx.arcTo(x, y + h, x, y + h - r, r);
  ctx.lineTo(x, y + r); ctx.arcTo(x, y, x + r, y, r); ctx.closePath();
}

const legendPlugin = { id: 'customLegend', afterDraw(chart) {
  const ctx = chart.ctx; ctx.save();
  roundRectPath(ctx, 334, 140, 1356, 162, 12);
  ctx.fillStyle = 'rgba(255,255,255,0.8)'; ctx.fill();
  ctx.strokeStyle = 'rgba(204,204,204,0.9)'; ctx.lineWidth = 3; ctx.stroke();
  ctx.setLineDash([47, 17]); ctx.lineWidth = 11; ctx.strokeStyle = '#000'; ctx.lineCap = 'butt';
  ctx.beginPath(); ctx.moveTo(354, 182); ctx.lineTo(454, 182); ctx.stroke(); ctx.setLineDash([]);
  ctx.beginPath(); ctx.arc(403, 254, 13, 0, 2 * Math.PI); ctx.fillStyle = NB_LEG_FILL; ctx.fill();
  ctx.lineWidth = 2.5; ctx.strokeStyle = NB_LEG_EDGE; ctx.stroke();
  ctx.beginPath(); ctx.arc(1104, 183, 14, 0, 2 * Math.PI); ctx.fillStyle = GOLD; ctx.fill();
  ctx.lineWidth = 3; ctx.strokeStyle = '#000'; ctx.stroke();
  ctx.fillStyle = '#000'; ctx.font = `48px ${F}`; ctx.textBaseline = 'alphabetic'; ctx.textAlign = 'left';
  ctx.fillText(legendLabels[0], 498, 199);
  ctx.fillText(legendLabels[1], 498, 271);
  ctx.fillText(legendLabels[2], 1195, 199);
  ctx.restore();
}};

function yAxis(min, max, ticks, fmt) {
  return {
    type: 'linear', min, max,
    afterBuildTicks: s => { s.ticks = ticks.map(v => ({value: v})); },
    afterFit: s => { s.width = 313; },
    ticks: { font: {family: F, size: 66}, color: '#000', padding: 21, autoSkip: false, callback: v => fmt(v) },
    grid: { display: true, drawOnChartArea: false, drawTicks: true, tickLength: 14, tickWidth: 2.5, tickColor: '#000' },
    border: { display: false }
  };
}
function xAxis(show) {
  return {
    type: 'linear', min: -5, max: 5, display: show,
    afterBuildTicks: s => { s.ticks = xTicks.map(v => ({value: v})); },
    afterFit: s => { s.height = show ? 221 : 0; },
    ticks: { font: {family: F, size: 66}, color: '#000', padding: 1, autoSkip: false, maxRotation: 0, callback: v => minus(v) },
    grid: { display: true, drawOnChartArea: false, drawTicks: true, tickLength: 13, tickWidth: 2.5, tickColor: '#000' },
    border: { display: false }
  };
}

function makePanel(id, cfg) {
  const datasets = [
    {label: legendLabels[1], data: pts(nbPhi, cfg.nb), backgroundColor: NB_FILL, borderColor: NB_EDGE, borderWidth: 2, pointRadius: 6.5, order: 7, clip: 0},
    {label: legendLabels[1] + ' (core)', data: pts(corePhiAll, cfg.nbCore), backgroundColor: NB_CORE_FILL, borderColor: NB_CORE_EDGE, borderWidth: 2, pointRadius: 8.5, order: 6, clip: 0},
    {label: legendLabels[2], data: pts(memPhi, cfg.mem), errorBars: cfg.memErr, backgroundColor: GOLD, borderColor: '#000', borderWidth: 3, pointRadius: 14.5, order: 4, clip: 0},
    {label: legendLabels[2] + ' (highlighted)', data: pts(corePhi, cfg.core), errorBars: cfg.coreErr, backgroundColor: GOLD, borderColor: MAG, borderWidth: 8, pointRadius: 14.5, order: 3, clip: 0},
    {label: legendLabels[0], data: pts(trackPhi, cfg.track), showLine: true, borderColor: '#000', backgroundColor: '#000', borderWidth: 11, borderDash: [47, 19], borderCapStyle: 'butt', pointRadius: 0, tension: 0.4, fill: false, order: 2, clip: 0},
    {label: chartTitle, data: pts(clusterPhi, cfg.cl), errorBars: cfg.clErr, pointStyle: 'rect', backgroundColor: GOLD, borderColor: '#000', borderWidth: 5, pointRadius: 22.5, order: 1, clip: 0}
  ];
  const plugins = [errorBarPlugin, framePlugin, yTitlePlugin(cfg.ylabel)].concat(cfg.extra || []);
  return new Chart(document.getElementById(id), {
    type: 'scatter',
    data: {datasets},
    options: {
      responsive: false, animation: false, devicePixelRatio: 1, events: [],
      layout: {padding: cfg.pad},
      plugins: { legend: {display: false}, tooltip: {enabled: false}, title: cfg.title || {display: false} },
      scales: { x: xAxis(cfg.showX), y: yAxis(cfg.ymin, cfg.ymax, cfg.yticks, cfg.fmt) }
    },
    plugins
  });
}

const fmtInt = v => minus(Math.round(v));
const fmt1 = v => minus(Number(v).toFixed(1));

makePanel('c1', {
  nb: nbV, nbCore: nbV2.concat(nbV3, nbV4), mem: memV, memErr: memVErr, core: coreV, coreErr: coreVErr, track: trackV, cl: clusterV, clErr: null,
  ymin: -50, ymax: 200, yticks: yTicksV, fmt: fmtInt, showX: false,
  pad: {left: 0, right: 22, top: 0, bottom: 60},
  title: {display: true, text: chartTitle, fullSize: false, color: '#000', font: {family: F, size: 80, weight: 'bold', lineHeight: 1.2}, padding: {top: 15, bottom: 5}},
  ylabel: [{t: 'v', font: `italic 66px ${F}`}, {t: 'gsr', font: `italic 46px ${F}`, dy: 14}, {t: ' (km/s)', font: `66px ${F}`}],
  extra: [legendPlugin]
});
makePanel('c2', {
  nb: nbPa, nbCore: nbPa2.concat(nbPa3, nbPa4), mem: memPa, memErr: memPaErr, core: corePa, coreErr: corePaErr, track: trackPa, cl: clusterPa, clErr: null,
  ymin: 1.5, ymax: 4.0, yticks: yTicksPa, fmt: fmt1, showX: false,
  pad: {left: 0, right: 22, top: 60, bottom: 60},
  ylabel: [{t: '\u03BC', font: `italic 66px ${F}`}, {t: '\u03B1', font: `italic 46px ${F}`, dy: 14}, {t: ' (mas/yr)', font: `66px ${F}`}]
});
makePanel('c3', {
  nb: nbPd, nbCore: nbPd2.concat(nbPd3, nbPd4), mem: memPd, memErr: memPdErr, core: corePd, coreErr: corePdErr, track: trackPd, cl: clusterPd, clErr: null,
  ymin: -3.5, ymax: 0, yticks: yTicksPd, fmt: fmt1, showX: false,
  pad: {left: 0, right: 22, top: 60, bottom: 60},
  ylabel: [{t: '\u03BC', font: `italic 66px ${F}`}, {t: '\u03B4', font: `italic 46px ${F}`, dy: 14}, {t: ' (mas/yr)', font: `66px ${F}`}]
});
makePanel('c4', {
  nb: [], nbCore: [], mem: memFe, memErr: memFeErr, core: coreFe, coreErr: coreFeErr, track: trackFe, cl: clusterFe, clErr: clusterFeErr,
  ymin: -3.5, ymax: 0, yticks: yTicksFe, fmt: fmtInt, showX: true,
  pad: {left: 0, right: 22, top: 60, bottom: 0},
  ylabel: [{t: '[Fe/H] (dex)', font: `66px ${F}`}],
  extra: [xTitlePlugin]
});
</script>
</body></html>
